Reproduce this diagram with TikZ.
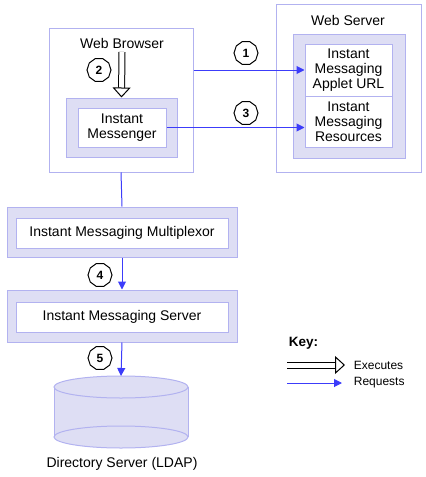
\documentclass[tikz,border=0pt]{standalone}
\usepackage{fontspec}
\setmainfont{Liberation Sans}
\usetikzlibrary{arrows.meta,shapes.geometric}
\definecolor{frame}{RGB}{178,178,240}
\definecolor{dotfill}{RGB}{222,222,244}
\definecolor{req}{RGB}{60,60,250}
\tikzset{
  outerbox/.style={draw=frame,fill=white,minimum width=#1},
  shadebox/.style={draw=frame,fill=dotfill},
  innerbox/.style={draw=frame,fill=white,align=center},
  badge/.style={draw,fill=white,regular polygon,regular polygon sides=10,inner sep=0pt,minimum size=24pt,font=\fontsize{12}{12}\selectfont\bfseries},
  reqarrow/.style={draw=req,-{Triangle[length=8pt,width=8pt]}},
  execarrow/.style={double,double distance=5pt,-{Triangle[open,length=10pt,width=18pt]}}
}
\begin{document}
\begin{tikzpicture}[x=1pt,y=-1pt,line width=1pt,font=\fontsize{14}{15}\selectfont]
\useasboundingbox (0,0) rectangle (426,477);
% browser side
\node[outerbox=144pt,minimum height=144pt] (browser) at (121,100) {};
\node (browsertitle) at (122,43) {Web Browser};
\node[shadebox,minimum width=111pt,minimum height=59pt] (msgshade) at (121.5,127.5) {};
\node[innerbox,minimum width=88pt,minimum height=39pt] (msgr) at (122,127.5) {Instant\\Messenger};
% server side
\node[outerbox=145pt,minimum height=168pt] (webserver) at (348.5,88) {};
\node (servertitle) at (348,20) {Web Server};
\node[shadebox,minimum width=112pt,minimum height=124pt] (srvshade) at (349,96) {};
\node[innerbox,minimum width=87pt,minimum height=52pt] (appurl) at (348.5,70) {Instant\\Messaging\\Applet URL};
\node[innerbox,minimum width=87pt,minimum height=51pt] (res) at (348.5,121.5) {Instant\\Messaging\\Resources};
% multiplexor and server
\node[shadebox,minimum width=230pt,minimum height=50pt] (muxshade) at (122,232) {};
\node[innerbox,minimum width=212pt,minimum height=30pt] (mux) at (122,233) {Instant Messaging Multiplexor};
\node[shadebox,minimum width=230pt,minimum height=52pt] (imsshade) at (122,316) {};
\node[innerbox,minimum width=212pt,minimum height=30pt] (ims) at (122,317) {Instant Messaging Server};
% directory
\fill[dotfill] (54,387) rectangle (188,437);
\filldraw[draw=frame,fill=dotfill] (121,437) ellipse [x radius=67,y radius=11];
\draw[frame] (54,387) -- (54,437) (188,387) -- (188,437);
\filldraw[draw=frame,fill=dotfill] (121,387) ellipse [x radius=67,y radius=11];
\coordinate (ldap) at (121,376);
\node (ldaplabel) at (122,464) {Directory Server (LDAP)};
% connectors
\draw[reqarrow] (appurl.west -| browser.east) -- (appurl.west);
\draw[reqarrow] (msgr.east) -- (msgr.east -| res.west);
\draw[execarrow] (browsertitle.south) -- (msgshade.north);
\draw[draw=req] (browser.south) -- (muxshade.north);
\draw[reqarrow] (muxshade.south) -- (imsshade.north);
\draw[reqarrow] (imsshade.south) -- (ldap);
% badges
\node[badge] (b1) at (246,53) {1};
\node[badge] (b2) at (99,70) {2};
\node[badge] (b3) at (246,113) {3};
\node[badge] (b4) at (100,275) {4};
\node[badge] (b5) at (100,358) {5};
% key
\node[anchor=west,font=\fontsize{13.5}{15}\selectfont\bfseries] (key) at (285,343) {Key:};
\coordinate (exstart) at (287,365);
\coordinate (exend) at (345,365);
\coordinate (rqstart) at (287,383);
\coordinate (rqend) at (342,383);
\draw[execarrow] (exstart) -- (exend);
\draw[reqarrow] (rqstart) -- (rqend);
\node[anchor=west,font=\fontsize{12}{14}\selectfont] (exlabel) at (350,365) {Executes};
\node[anchor=west,font=\fontsize{12}{14}\selectfont] (rqlabel) at (350,383) {Requests};
\end{tikzpicture}
\end{document}
